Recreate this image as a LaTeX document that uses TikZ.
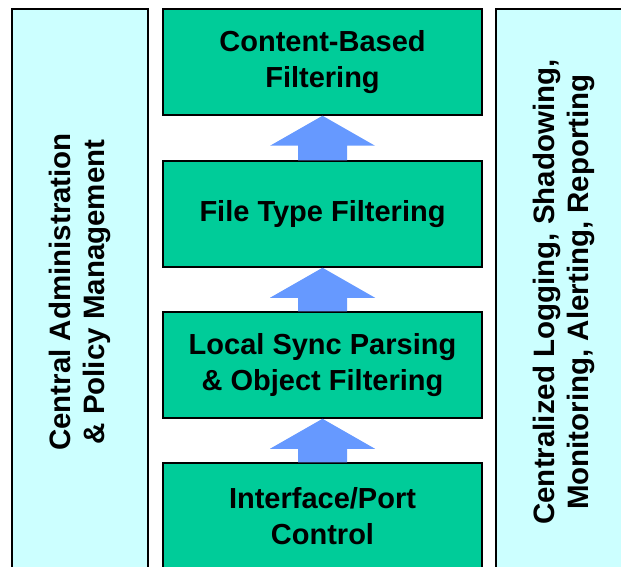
\documentclass[tikz,border=0pt]{standalone}
\usepackage{fontspec}
\setmainfont{Liberation Sans}
\usepackage{tikz}
\usetikzlibrary{calc}
\usepackage{xcolor}
\definecolor{stagegreen}{HTML}{00CC99}
\definecolor{panelcyan}{HTML}{CCFFFF}
\definecolor{flowblue}{HTML}{6699FF}

\begin{document}
\begin{tikzpicture}[x=1pt, y=-1pt,
  stage/.style={rectangle, draw=black, line width=1.5pt, fill=stagegreen,
                minimum width=319pt, minimum height=106pt, align=center,
                font=\bfseries\fontsize{29}{36}\selectfont},
  panel/.style={rectangle, draw=black, line width=1.5pt, fill=panelcyan,
                minimum width=566pt, minimum height=136pt, align=center,
                rotate=90, font=\bfseries\fontsize{29.5}{34}\selectfont},
  flow/.style={fill=flowblue}
]
  \clip (0,0) rectangle (621,567);

  \node[panel] (admin) at (80,292)  {Central Administration\\\& Policy Management};
  \node[panel] (logs)  at (564,292) {Centralized Logging, Shadowing,\\Monitoring, Alerting, Reporting};

  \node[stage] (content) at (322.5,62)  {Content-Based\\Filtering};
  \node[stage] (ftype)   at (322.5,214) {File Type Filtering};
  \node[stage] (sync)    at (322.5,365) {Local Sync Parsing\\\& Object Filtering};
  \node[stage] (iface)   at (322.5,516) {Interface/Port\\Control};

  % block arrows between the stages
  \foreach \lo/\up in {iface/sync, sync/ftype, ftype/content}
    \fill[flow] ($(\lo.north)+(-24.5,0)$) -- ($(\up.south)+(-24.5,30)$)
      -- ($(\up.south)+(-52.5,30)$) -- (\up.south) -- ($(\up.south)+(52.5,30)$)
      -- ($(\up.south)+(24.5,30)$) -- ($(\lo.north)+(24.5,0)$) -- cycle;
\end{tikzpicture}
\end{document}
